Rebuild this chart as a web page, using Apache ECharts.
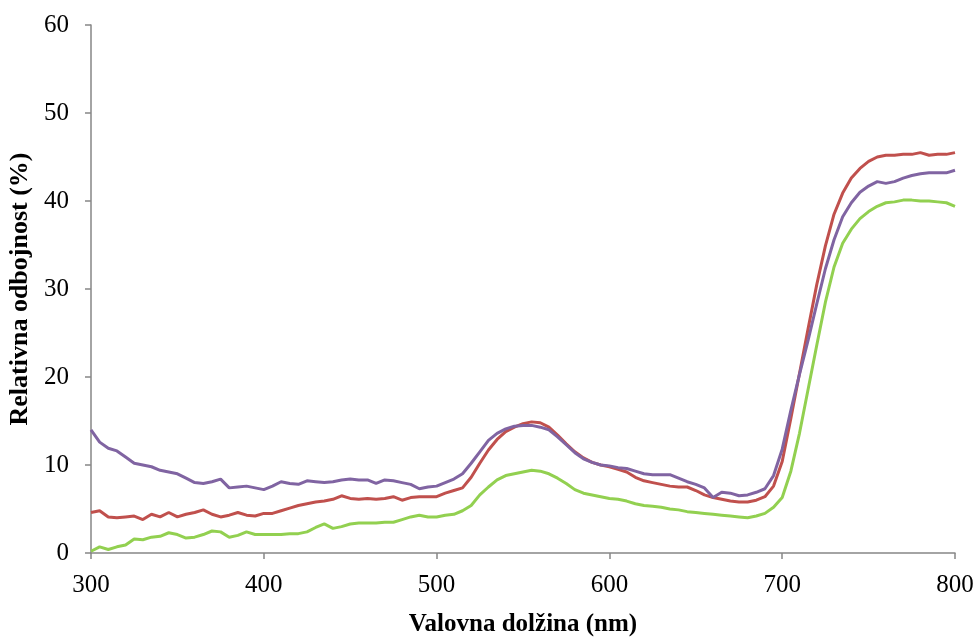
<!DOCTYPE html>
<html>
<head>
<meta charset="utf-8">
<script src="https://cdn.jsdelivr.net/npm/echarts@6/dist/echarts.min.js"></script>
<style>html,body{margin:0;padding:0;background:#fff}#c{width:977px;height:637px}</style>
</head>
<body>
<div id="c"></div>
<script>
// wavelength grid (nm), 5 nm steps
var wavelengths = [];
for (var w = 300; w <= 800; w += 5) wavelengths.push(w);

var purple = [14.0,12.6,11.9,11.6,10.9,10.2,10.0,9.8,9.4,9.2,9.0,8.5,8.0,7.9,8.1,8.4,7.4,7.5,7.6,7.4,
  7.2,7.6,8.1,7.9,7.8,8.2,8.1,8.0,8.1,8.3,8.4,8.3,8.3,7.9,8.3,8.2,8.0,7.8,7.3,7.5,
  7.6,8.0,8.4,9.0,10.2,11.5,12.8,13.6,14.1,14.4,14.5,14.5,14.3,14.0,13.2,12.3,11.4,10.7,10.3,10.0,
  9.9,9.7,9.6,9.3,9.0,8.9,8.9,8.9,8.5,8.1,7.8,7.4,6.3,6.9,6.8,6.5,6.6,6.9,7.3,8.8,
  11.8,16.2,20.3,24.2,28.3,32.3,35.6,38.2,39.8,41.0,41.7,42.2,42.0,42.2,42.6,42.9,43.1,43.2,43.2,43.2,
  43.5];
var red = [4.6,4.8,4.1,4.0,4.1,4.2,3.8,4.4,4.1,4.6,4.1,4.4,4.6,4.9,4.4,4.1,4.3,4.6,4.3,4.2,
  4.5,4.5,4.8,5.1,5.4,5.6,5.8,5.9,6.1,6.5,6.2,6.1,6.2,6.1,6.2,6.4,6.0,6.3,6.4,6.4,
  6.4,6.8,7.1,7.4,8.6,10.2,11.7,12.9,13.8,14.3,14.7,14.9,14.8,14.3,13.4,12.4,11.5,10.8,10.3,10.0,
  9.8,9.5,9.2,8.6,8.2,8.0,7.8,7.6,7.5,7.5,7.1,6.6,6.3,6.1,5.9,5.8,5.8,6.0,6.4,7.6,
  10.4,15.3,20.4,25.5,30.5,34.9,38.5,40.9,42.6,43.7,44.5,45.0,45.2,45.2,45.3,45.3,45.5,45.2,45.3,45.3,
  45.5];
var green = [0.2,0.7,0.4,0.7,0.9,1.6,1.5,1.8,1.9,2.3,2.1,1.7,1.8,2.1,2.5,2.4,1.8,2.0,2.4,2.1,
  2.1,2.1,2.1,2.2,2.2,2.4,2.9,3.3,2.8,3.0,3.3,3.4,3.4,3.4,3.5,3.5,3.8,4.1,4.3,4.1,
  4.1,4.3,4.4,4.8,5.4,6.6,7.5,8.3,8.8,9.0,9.2,9.4,9.3,9.0,8.5,7.9,7.2,6.8,6.6,6.4,
  6.2,6.1,5.9,5.6,5.4,5.3,5.2,5.0,4.9,4.7,4.6,4.5,4.4,4.3,4.2,4.1,4.0,4.2,4.5,5.2,
  6.3,9.3,13.6,18.6,23.6,28.5,32.5,35.2,36.8,38.0,38.8,39.4,39.8,39.9,40.1,40.1,40.0,40.0,39.9,39.8,
  39.4];

function pairs(vals){ return wavelengths.map(function(x,i){ return [x, vals[i]]; }); }

var chart = echarts.init(document.getElementById('c'), null, {renderer:'canvas'});
var font = '"Liberation Serif", "Times New Roman", serif';
var axisCol = '#868686';
function mk(name, vals, col){
  return {name:name, type:'line', data:pairs(vals), showSymbol:false, symbol:'none',
    lineStyle:{color:col, width:3}, itemStyle:{color:col}, animation:false};
}
chart.setOption({
  backgroundColor:'#ffffff',
  animation:false,
  grid:{left:91, right:22, top:25, bottom:84, containLabel:false, outerBoundsMode:'none'},
  xAxis:{type:'value', min:300, max:800, interval:100,
    name:'Valovna dolžina (nm)', nameLocation:'middle', nameGap:59,
    nameTextStyle:{fontFamily:font, fontSize:25, fontWeight:'bold', color:'#000'},
    axisLine:{show:true, lineStyle:{color:axisCol, width:1.5}},
    axisTick:{show:true, length:6, lineStyle:{color:axisCol, width:1.5}},
    axisLabel:{fontFamily:font, fontSize:25, color:'#000', margin:20},
    splitLine:{show:false}},
  yAxis:{type:'value', min:0, max:60, interval:10,
    name:'Relativna odbojnost (%)', nameLocation:'middle', nameGap:57,
    nameTextStyle:{fontFamily:font, fontSize:26, fontWeight:'bold', color:'#000'},
    axisLine:{show:true, lineStyle:{color:axisCol, width:1.5}},
    axisTick:{show:true, length:6, lineStyle:{color:axisCol, width:1.5}},
    axisLabel:{fontFamily:font, fontSize:25, color:'#000', margin:22},
    splitLine:{show:false}},
  series:[mk('Vzorec 1', red, '#C0504D'), mk('Vzorec 2', green, '#92D050'), mk('Vzorec 3', purple, '#8064A2')]
});
</script>
</body>
</html>
